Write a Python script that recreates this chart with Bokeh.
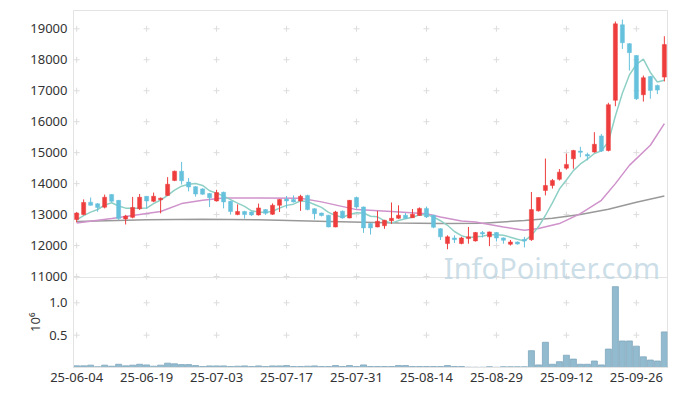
import numpy as np
from bokeh.plotting import figure
from bokeh.models import Range1d, FixedTicker, Label, Span, LinearAxis
from bokeh.embed import file_html
from bokeh.resources import INLINE

# ---------------- data ----------------
tick_idx = [0, 10, 20, 30, 40, 50, 60, 70, 80]
tick_labels = ["25-06-04", "25-06-19", "25-07-03", "25-07-17", "25-07-31",
               "25-08-14", "25-08-29", "25-09-12", "25-09-26"]
price_ticks = [11000, 12000, 13000, 14000, 15000, 16000, 17000, 18000, 19000]
vol_ticks = [0.5, 1.0]
vol_tick_labels = ["0.5", "1.0"]

opens = [12840, 13000, 13400, 13350, 13240, 13650, 13460, 12860, 12910, 13190,
         13590, 13430, 13480, 13620, 14100, 14400, 14050, 13900, 13830, 13680,
         13440, 13720, 13430, 13000, 13100, 13085, 12990, 13160, 13010, 13300,
         13500, 13490, 13440, 13620, 13190, 13050, 12980, 12600, 13110, 12890,
         13550, 13245, 12710, 12600, 12640, 12800, 12880, 12980, 12900, 12970,
         13200, 12980, 12545, 12065, 12245, 12065, 12225, 12150, 12420, 12280,
         12420, 12245, 12040, 12115, 12200, 12190, 13120, 13780, 13940, 14140,
         14500, 14800, 15050, 14940, 15020, 15540, 15070, 16690, 19130, 18520,
         18140, 16870, 17460, 17170, 17440]
highs = [13080, 13490, 13550, 13370, 13645, 13660, 13470, 12990, 13570, 13665,
         13600, 13710, 13550, 14210, 14420, 14700, 14180, 13920, 13850, 13700,
         13800, 13740, 13440, 13330, 13120, 13100, 13355, 13180, 13360, 13500,
         13600, 13620, 13640, 13640, 13200, 13060, 12990, 13120, 13130, 13470,
         13580, 13260, 12720, 13120, 12830, 13390, 13300, 13050, 13180, 13230,
         13260, 12990, 12560, 12330, 12330, 12280, 12600, 12440, 12470, 12450,
         12440, 12260, 12180, 12130, 12280, 13730, 13560, 14810, 14150, 14470,
         14970, 15090, 15190, 15000, 15660, 15600, 16610, 19235, 19300, 18540,
         18150, 17490, 17480, 17200, 18760]
lows = [12750, 12980, 13290, 13090, 13200, 13400, 12830, 12680, 12880, 13150,
        13190, 13400, 13040, 13600, 14080, 13970, 13750, 13580, 13640, 13245,
        13420, 13200, 13000, 12980, 12870, 12960, 12970, 12990, 12990, 13085,
        13200, 13390, 13120, 13140, 12840, 12940, 12590, 12590, 12870, 12880,
        13190, 12410, 12355, 12590, 12540, 12700, 12860, 12870, 12890, 12960,
        12890, 12560, 12180, 11880, 12080, 12040, 12060, 12130, 12260, 11980,
        12130, 12060, 12000, 12030, 11940, 12150, 13100, 13620, 13840, 14100,
        14450, 14480, 14850, 14750, 15000, 15020, 15040, 16500, 18350, 17650,
        16700, 16650, 16740, 16890, 17300]
closes = [13050, 13390, 13300, 13230, 13560, 13430, 12870, 12950, 13230, 13560,
          13440, 13590, 13530, 13980, 14400, 14090, 13890, 13665, 13660, 13540,
          13710, 13410, 13100, 13100, 13000, 12990, 13215, 13040, 13300, 13490,
          13440, 13410, 13590, 13160, 13030, 12970, 12600, 13085, 12890, 13460,
          13245, 12570, 12570, 12785, 12815, 12880, 12980, 12880, 13010, 13200,
          12925, 12590, 12280, 12280, 12190, 12245, 12280, 12420, 12375, 12440,
          12245, 12170, 12115, 12050, 12150, 13160, 13550, 13940, 14100, 14370,
          14620, 15070, 15010, 14890, 15270, 15050, 16550, 19160, 18550, 18230,
          16740, 17420, 17010, 17020, 18490]
# closes of the four sessions before the window (needed for the 5-day average)
prior_closes = [12700, 12750, 12800, 12850]

# volume, millions of shares
volumes = [0.026, 0.026, 0.036, 0.012, 0.036, 0.020, 0.050, 0.026, 0.036, 0.050,
           0.040, 0.020, 0.036, 0.067, 0.057, 0.045, 0.045, 0.030, 0.015, 0.025,
           0.025, 0.025, 0.015, 0.020, 0.025, 0.015, 0.025, 0.015, 0.025, 0.025,
           0.030, 0.015, 0.015, 0.020, 0.025, 0.015, 0.015, 0.030, 0.015, 0.030,
           0.015, 0.040, 0.015, 0.015, 0.015, 0.015, 0.030, 0.030, 0.015, 0.015,
           0.015, 0.015, 0.015, 0.030, 0.015, 0.015, 0.005, 0.004, 0.004, 0.012,
           0.004, 0.012, 0.012, 0.012, 0.012, 0.260, 0.040, 0.390, 0.050, 0.090,
           0.190, 0.130, 0.050, 0.050, 0.100, 0.040, 0.285, 1.250, 0.410, 0.410,
           0.330, 0.165, 0.115, 0.100, 0.550]

# 20-day and long moving averages
ma20_idx = [0, 5, 9, 12, 15, 18, 21, 26, 32, 35, 40, 45, 50, 52, 55, 57, 61,
            64, 66, 69, 72, 75, 77, 79, 82, 84]
ma20_val = [12730, 12870, 13000, 13100, 13355, 13460, 13535, 13535, 13530, 13410,
            13160, 13100, 13030, 12920, 12790, 12760, 12600, 12495, 12550, 12710,
            13030, 13460, 14000, 14590, 15240, 15940]
malong_idx = [0, 10, 18, 26, 36, 46, 52, 58, 64, 68, 72, 76, 80, 84]
malong_val = [12780, 12830, 12850, 12830, 12780, 12730, 12710, 12720, 12810,
              12880, 13000, 13170, 13400, 13600]

watermark = "InfoPointer.com"
vol_unit = "10\u2076"

# ---------------- derived ----------------
n = len(closes)
x = np.arange(n)
o = np.array(opens, float); c = np.array(closes, float)
h = np.array(highs, float); l = np.array(lows, float)
allc = np.array(prior_closes + closes, float)
ma5 = np.array([allc[i:i + 5].mean() for i in range(n)])
up = c >= o

RED = "#ee3d3d"
BLUE = "#66c1dc"
FONT = "Noto Sans"
TXT = "#333333"
GRIDC = "#dddddd"
EDGE = "#e3e3e3"

# one frame: price pane on top, volume pane (own range) at the bottom
PMIN, PMAX = 8061, 19591          # price range spanning the whole frame
VMAX = 5.518                      # volume range spanning the whole frame
PANE_SPLIT = 10968                # price value at the border between panes

p = figure(width=669, height=384, x_range=Range1d(-0.45, 84.45),
           y_range=Range1d(PMIN, PMAX), output_backend="svg",
           toolbar_location=None, min_border_left=73, min_border_right=2,
           min_border_top=10, min_border_bottom=0)
p.extra_y_ranges = {"vol": Range1d(0, VMAX)}
p.grid.visible = False
p.outline_line_color = EDGE
p.add_layout(Span(location=PANE_SPLIT, dimension="width", line_color=EDGE,
                  line_width=1))

def vol_to_price(v):
    return PMIN + v / VMAX * (PMAX - PMIN)

vt_pos = [int(round(vol_to_price(v))) for v in vol_ticks]
ax = p.yaxis[0]
ax.ticker = FixedTicker(ticks=price_ticks + vt_pos)
ov = {t: str(t) for t in price_ticks}
ov.update({t: s for t, s in zip(vt_pos, vol_tick_labels)})
ax.major_label_overrides = ov
for a in (p.yaxis[0], p.xaxis[0]):
    a.major_tick_line_color = None
    a.minor_tick_line_color = None
    a.major_tick_out = 0
    a.major_tick_in = 0
    a.minor_tick_out = 0
    a.axis_line_color = EDGE
    a.major_label_text_font = FONT
    a.major_label_text_font_size = "13px"
    a.major_label_text_color = TXT
p.yaxis.major_label_standoff = 6
p.xaxis.ticker = FixedTicker(ticks=tick_idx)
p.xaxis.major_label_overrides = {t: s for t, s in zip(tick_idx, tick_labels)}
p.xaxis.major_label_standoff = 5

# unit label of the volume pane: a tick label on an axis bound to the volume range
UNIT_AT = 0.7
vax = LinearAxis(y_range_name="vol", ticker=FixedTicker(ticks=[UNIT_AT]),
                 major_label_overrides={UNIT_AT: vol_unit},
                 major_label_orientation="vertical",
                 axis_line_color=None, major_tick_line_color=None,
                 minor_tick_line_color=None, major_tick_out=0, major_tick_in=0,
                 minor_tick_out=0, major_label_standoff=-17,
                 major_label_text_font=FONT, major_label_text_font_size="13px",
                 major_label_text_color=TXT)
p.add_layout(vax, "left")

# grid crosses
gx = [t for t in tick_idx for _ in price_ticks]
gy = [v for _ in tick_idx for v in price_ticks]
p.scatter(gx, gy, marker="cross", size=6, line_color=GRIDC, line_width=1)
gx2 = [t for t in tick_idx for _ in vol_ticks]
gy2 = [v for _ in tick_idx for v in vol_ticks]
p.scatter(gx2, gy2, marker="cross", size=6, line_color=GRIDC, line_width=1,
          y_range_name="vol")

# volume bars
p.vbar(x=x, top=volumes, width=0.86, fill_color="#93bbcf", line_color="#7fa7bc",
       line_width=0.8, y_range_name="vol")

# moving averages
p.line(malong_idx, malong_val, line_color="#999999", line_width=1.5)
p.line(ma20_idx, ma20_val, line_color="#cf92cb", line_width=1.5)
p.line(x, ma5, line_color="#8fd0c6", line_width=1.5)

# candles
for mask, col in ((up, RED), (~up, BLUE)):
    p.segment(x[mask], h[mask], x[mask], l[mask], line_color=col, line_width=1)
    top = np.maximum(o[mask], c[mask]); bot = np.minimum(o[mask], c[mask])
    bot = np.where(top - bot < 30, top - 30, bot)
    p.vbar(x=x[mask], top=top, bottom=bot, width=0.58, fill_color=col,
           line_color=col, line_width=0.5)

p.add_layout(Label(x=83.4, y=11300, text=watermark, text_font=FONT,
                   text_font_size="29px", text_color="#bcd3e0", text_alpha=0.75,
                   text_align="right", text_baseline="alphabetic"))

open("out.html", "w").write(file_html(p, INLINE))
